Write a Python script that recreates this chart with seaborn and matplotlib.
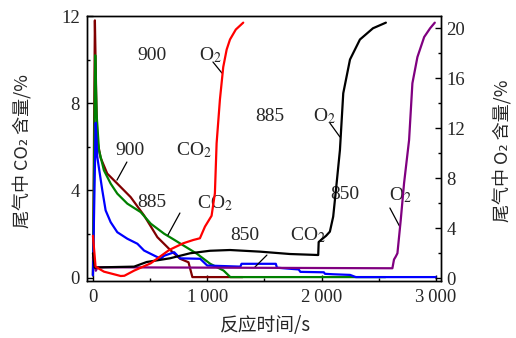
import matplotlib
matplotlib.use("Agg")
import matplotlib.pyplot as plt
import seaborn as sns
import pandas as pd
from matplotlib.ticker import MultipleLocator

# ---------------- data ----------------
# CO2 (left axis, %)
t_co2_900 = [0, 6, 17, 28, 38, 67, 125, 213, 330, 447, 564, 681, 763, 836, 870, 1310]
co2_900 = [0.1, 4.0, 11.8, 8.5, 6.3, 5.5, 4.77, 4.31, 3.69, 2.85, 1.85, 1.24, 0.86, 0.7, 0.02, 0.02]

t_co2_885 = [0, 8, 20, 32, 53, 96, 155, 213, 301, 418, 506, 623, 696, 792, 910, 1026, 1143, 1202, 2560]
co2_885 = [0.1, 4.0, 10.2, 7.5, 5.84, 4.92, 4.31, 3.85, 3.39, 3.0, 2.47, 2.01, 1.78, 1.47, 1.09, 0.63, 0.32, 0.02, 0.02]

t_co2_850 = [0, 10, 24, 38, 82, 111, 155, 213, 301, 389, 447, 535, 594, 623, 711, 763, 938, 1000,
             1290, 1300, 1600, 1610, 1800, 1815, 2020, 2030, 2100, 2250, 2300, 3000]
co2_850 = [0.1, 3.0, 7.1, 5.53, 4.0, 3.08, 2.54, 2.08, 1.78, 1.55, 1.24, 1.01, 0.86, 1.0, 1.16, 0.88, 0.86, 0.55,
           0.5, 0.63, 0.63, 0.45, 0.37, 0.26, 0.24, 0.17, 0.15, 0.12, 0.02, 0.02]

# O2 (right axis, %)
t_o2_900 = [0, 23, 96, 243, 275, 360, 506, 667, 790, 877, 936, 980, 1038, 1067, 1082, 1111, 1140, 1170, 1199, 1250, 1315]
o2_900 = [3.4, 0.93, 0.53, 0.18, 0.2, 0.61, 1.2, 2.26, 2.8, 3.06, 3.2, 4.13, 5.0, 6.8, 10.8, 14.3, 16.9, 18.3, 19.1, 19.9, 20.45]

t_o2_885 = [0, 15, 100, 360, 470, 675, 850, 1024, 1199, 1461, 1724, 1971, 1975, 2000, 2040, 2073, 2102, 2132,
            2161, 2190, 2249, 2336, 2450, 2563]
o2_885 = [2.0, 0.85, 0.88, 0.93, 1.3, 1.6, 2.0, 2.2, 2.26, 2.13, 1.94, 1.86, 2.9, 3.1, 3.4, 3.73, 4.93, 7.6,
          10.26, 14.8, 17.5, 19.1, 20.0, 20.45]

t_o2_850 = [0, 12, 25, 40, 2620, 2634, 2649, 2664, 2693, 2722, 2766, 2795, 2839, 2898, 2950, 2991]
o2_850 = [1.65, 1.2, 0.6, 0.88, 0.8, 1.5, 1.73, 2.0, 4.66, 7.6, 11.06, 15.6, 17.7, 19.3, 20.0, 20.45]

x_ticks = [0, 1000, 2000, 3000]
x_ticklabels = ["0", "1\u2009000", "2\u2009000", "3\u2009000"]
left_ticks = [0, 4, 8, 12]
right_ticks = [0, 4, 8, 12, 16, 20]

# ---------------- style ----------------
sns.set_style("ticks")
plt.rcParams["font.family"] = ["Liberation Serif", "DejaVu Serif"]
plt.rcParams["mathtext.fontset"] = "stix"
cjk = ["Noto Sans CJK SC", "DejaVu Sans"]

fig = plt.figure(figsize=(5.16, 3.38), dpi=100)
ax = fig.add_axes([0.1686, 0.1686, 0.686, 0.784])
ax2 = ax.twinx()

lw = 1.6
for t, v, c in [(t_co2_900, co2_900, "#800000"),
                (t_co2_885, co2_885, "#008000"),
                (t_co2_850, co2_850, "#0000ff")]:
    df = pd.DataFrame({"t": t, "v": v})
    sns.lineplot(data=df, x="t", y="v", ax=ax, color=c, lw=lw, estimator=None, sort=False, legend=False)

for t, v, c in [(t_o2_850, o2_850, "#800080"),
                (t_o2_885, o2_885, "#000000"),
                (t_o2_900, o2_900, "#ff0000")]:
    df = pd.DataFrame({"t": t, "v": v})
    sns.lineplot(data=df, x="t", y="v", ax=ax2, color=c, lw=lw, estimator=None, sort=False, legend=False)

ax.set_xlim(-52, 3045)
ax.set_ylim(-0.16, 12.0)
ax2.set_ylim(-0.22, 20.98)

ax.set_xticks(x_ticks)
ax.set_xticklabels(x_ticklabels)
ax.xaxis.set_minor_locator(MultipleLocator(500))
ax.set_yticks(left_ticks)
ax.yaxis.set_minor_locator(MultipleLocator(2))
ax2.set_yticks(right_ticks)
ax2.yaxis.set_minor_locator(MultipleLocator(2))

for a in (ax, ax2):
    a.tick_params(which="major", direction="in", length=4, width=1, labelsize=13.5, pad=5, color="k")
    a.tick_params(which="minor", direction="in", length=2.5, width=1, color="k")
    for s in a.spines.values():
        s.set_color("k")
        s.set_linewidth(1.0)
ax.tick_params(axis="x", pad=6)
ax2.tick_params(axis="y", pad=4)

ax.set_xlabel("反应时间/s", family=cjk, fontsize=13.5)
ax.set_ylabel("尾气中 CO₂ 含量/%", family=cjk, fontsize=13)
ax2.set_ylabel("尾气中 O₂ 含量/%", family=cjk, fontsize=13)
ax.xaxis.set_label_coords(0.503, -0.13)
ax.yaxis.set_label_coords(-0.155, 0.49)
ax2.yaxis.set_label_coords(1.148, 0.49)

# ---------------- annotations ----------------
fs = 14
def lab(x, y, s):
    ax.text(x, y, s, ha="center", va="center", fontsize=fs)

def lead(x1, y1, x2, y2):
    ax.plot([x1, x2], [y1, y2], color="k", lw=0.9)

lab(516, 10.2, "900"); lab(1030, 10.2, "O$_2$"); lead(1050, 9.89, 1129, 9.38)
lab(1549, 7.41, "885"); lab(2025, 7.41, "O$_2$"); lead(2073, 7.09, 2161, 6.45)
lab(2205, 3.79, "850"); lab(2690, 3.79, "O$_2$"); lead(2598, 3.19, 2686, 2.32)
lab(324, 5.85, "900"); lab(880, 5.85, "CO$_2$"); lead(297, 5.3, 210, 4.47)
lab(516, 3.42, "885"); lab(1070, 3.42, "CO$_2$"); lead(761, 2.96, 656, 1.95)
lab(1330, 1.95, "850"); lab(1880, 1.95, "CO$_2$"); lead(1522, 1.03, 1417, 0.48)

fig.savefig("out.png", dpi=100)
